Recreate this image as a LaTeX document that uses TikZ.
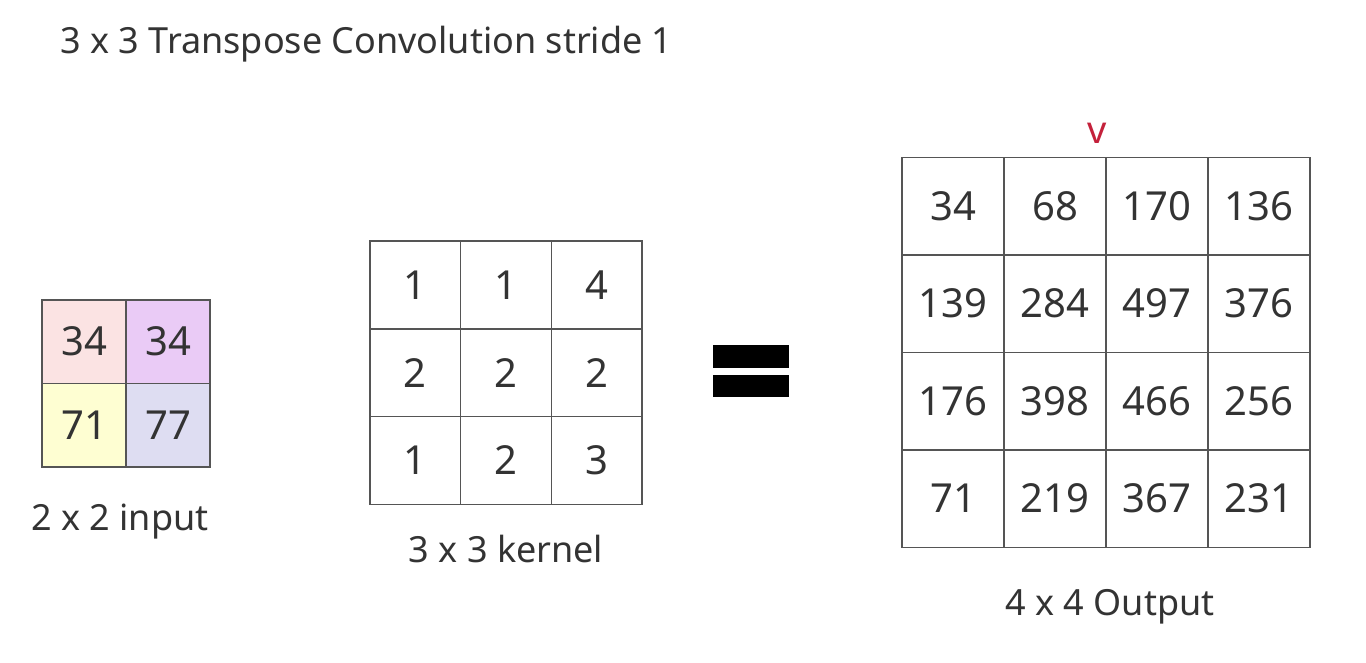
\documentclass[tikz,border=0pt]{standalone}
\usepackage{fontspec}
\setmainfont{Noto Sans}
\definecolor{gridline}{HTML}{555555}
\definecolor{txt}{HTML}{333333}
\definecolor{inpink}{HTML}{FBE3E3}
\definecolor{inpurple}{HTML}{EACBF6}
\definecolor{inyellow}{HTML}{FEFED2}
\definecolor{inlav}{HTML}{DEDDF2}
\definecolor{mark}{HTML}{C4213B}
\tikzset{
  cell/.style={draw=gridline, line width=1.5pt, inner sep=0pt, outer sep=0pt,
    text=txt, font=\fontsize{40}{48}\selectfont},
  incell/.style={cell, minimum width=84pt, minimum height=83.5pt},
  kcell/.style={cell, minimum width=90.7pt, minimum height=87.7pt},
  ocell/.style={cell, minimum width=102pt, minimum height=97.5pt},
  caption/.style={text=txt, font=\fontsize{36}{43}\selectfont},
}
\begin{document}
\begin{tikzpicture}[x=1pt, y=-1pt]
        \useasboundingbox (0,0) rectangle (1366,662);

        % Title
        \node[caption, anchor=west] (title) at (57,44) {3 x 3 Transpose Convolution stride 1};

        % 2 x 2 input
        \node[incell, fill=inpink] (in-1-1) at (84,341.5) {34};
        \node[incell, fill=inpurple] (in-1-2) at (168,341.5) {34};
        \node[incell, fill=inyellow] (in-2-1) at (84,425) {71};
        \node[incell, fill=inlav] (in-2-2) at (168,425) {77};
        \node[caption] (inlabel) at (120,522) {2 x 2 input};

        % 3 x 3 kernel
        \foreach \v [count=\i from 0] in {1,1,4,2,2,2,1,2,3} {
          \pgfmathtruncatemacro{\r}{div(\i,3)}
          \pgfmathtruncatemacro{\c}{mod(\i,3)}
          \node[kcell] (k-\r-\c) at (415.3+90.7*\c, 285+87.7*\r) {\v};
        }
        \node[caption] (klabel) at (506,549) {3 x 3 kernel};

        % Equals sign
        \fill (713,345) rectangle (789,368);
        \fill (713,375) rectangle (789,397);

        % 4 x 4 output
        \foreach \v [count=\i from 0] in {34,68,170,136,139,284,497,376,176,398,466,256,71,219,367,231} {
          \pgfmathtruncatemacro{\r}{div(\i,4)}
          \pgfmathtruncatemacro{\c}{mod(\i,4)}
          \node[ocell] (o-\r-\c) at (953+102*\c, 206+97.5*\r) {\v};
        }
        \node[caption] (olabel) at (1110,607) {4 x 4 Output};

        % Marker above output column
        \node[text=mark, font=\fontsize{38}{44}\selectfont] (mark) at (1097,133) {v};
    \end{tikzpicture}
\end{document}
